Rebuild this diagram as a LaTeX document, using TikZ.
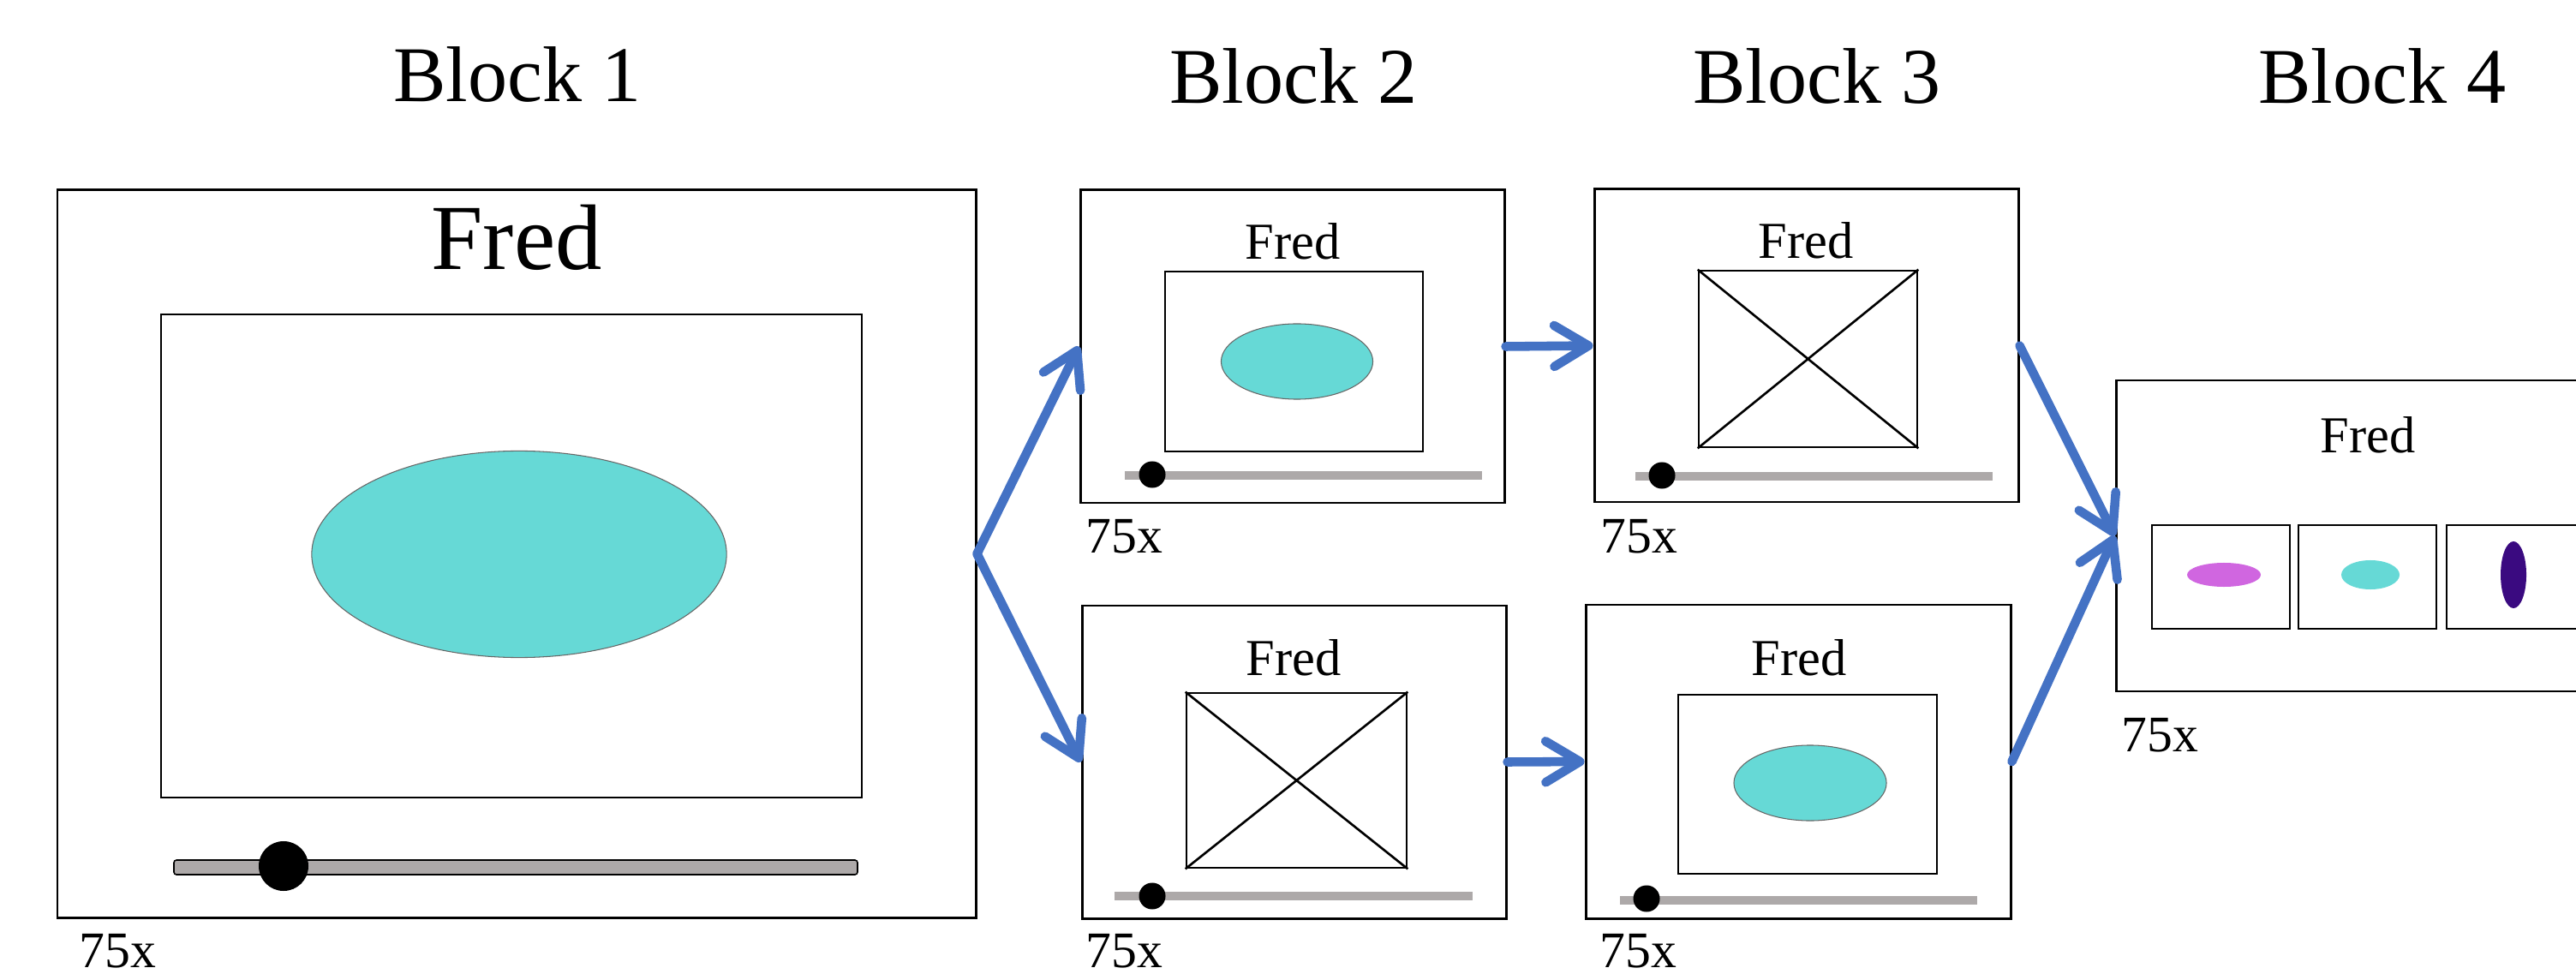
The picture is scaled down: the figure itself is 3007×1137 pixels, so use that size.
\documentclass[tikz,border=0pt]{standalone}
\usepackage{fontspec}
\setmainfont{Liberation Serif}
\usetikzlibrary{arrows.meta,fit,shapes.geometric}
\definecolor{cyanfill}{RGB}{102,217,214}
\definecolor{slidergray}{RGB}{173,169,169}
\definecolor{arrowblue}{RGB}{68,114,196}
\definecolor{magentafill}{RGB}{208,102,224}
\definecolor{purplefill}{RGB}{58,10,128}
\begin{document}
\begin{tikzpicture}[x=0.01cm,y=-0.01cm,
  outerbox/.style={draw, line width=0.85pt, inner sep=0pt},
  innerbox/.style={draw, line width=0.75pt, inner sep=0pt},
  blob/.style={ellipse, inner sep=0pt, draw=black!60, line width=0.3pt},
  flow/.style={draw=arrowblue, line width=3pt, line cap=round, -{Straight Barb[length=0.4cm, width=0.48cm, line cap=round, line join=round]}},
  track/.style={draw=slidergray, line width=2.85pt},
  knob/.style={circle, fill=black, inner sep=0pt, minimum size=0.31cm},
  blocktitle/.style={font=\fontsize{26.2}{30}\selectfont, anchor=base},
  bigfred/.style={font=\fontsize{30.9}{36}\selectfont, anchor=base},
  smallfred/.style={font=\fontsize{17.2}{20}\selectfont, anchor=base},
  countlbl/.style={font=\fontsize{17}{20}\selectfont, anchor=base west, inner sep=0pt},
]
\clip (0,0) rectangle (3007,1137);

% titles
\node[blocktitle] (t1) at (604,119) {Block 1};
\node[blocktitle] (t2) at (1510,121) {Block 2};
\node[blocktitle] (t3) at (2121,121) {Block 3};
\node[blocktitle] (t4) at (2781,121) {Block 4};

% ---------- Block 1 ----------
\node[outerbox, fit={(67,222) (1139,1071)}] (b1) {};
\node[bigfred] (f1) at (603,315) {Fred};
\node[innerbox, fit={(188,367) (1006,931)}] (i1) {};
\node[blob, fill=cyanfill, minimum width=4.84cm, minimum height=2.41cm] (e1) at (606,647) {};
\draw[fill=slidergray, draw=black, line width=0.45pt, rounded corners=0.03cm] (203,1004) rectangle (1001,1021);
\node[knob, minimum size=0.58cm] (k1) at (331,1011) {};
\node[countlbl] (c1) at (92,1129) {75x};

% ---------- Block 2 top ----------
\node[outerbox, fit={(1261,222) (1756,587)}] (b2t) {};
\node[smallfred] (f2t) at (1509,303) {Fred};
\node[innerbox, fit={(1360,317) (1661,527)}] (i2t) {};
\node[blob, fill=cyanfill, minimum width=1.77cm, minimum height=0.88cm] (e2t) at (1514,422) {};
\coordinate (s2ta) at (1313,555);
\coordinate (s2tb) at (1730,555);
\draw[track] (s2ta) -- (s2tb);
\node[knob] (k2t) at (1345,554) {};
\node[countlbl] (c2t) at (1267,645) {75x};

% ---------- Block 3 top ----------
\node[outerbox, fit={(1861,221) (2356,586)}] (b3t) {};
\node[smallfred] (f3t) at (2108,302) {Fred};
\node[innerbox, fit={(1983,316) (2238,522)}] (i3t) {};
\draw[line width=0.75pt] (i3t.north west) -- (i3t.south east) (i3t.north east) -- (i3t.south west);
\coordinate (s3ta) at (1909,556);
\coordinate (s3tb) at (2326,556);
\draw[track] (s3ta) -- (s3tb);
\node[knob] (k3t) at (1940,555) {};
\node[countlbl] (c3t) at (1868,646) {75x};

% ---------- Block 2 bottom ----------
\node[outerbox, fit={(1263,707) (1758,1072)}] (b2b) {};
\node[smallfred] (f2b) at (1510,788) {Fred};
\node[innerbox, fit={(1385,809) (1642,1013)}] (i2b) {};
\draw[line width=0.75pt] (i2b.north west) -- (i2b.south east) (i2b.north east) -- (i2b.south west);
\coordinate (s2ba) at (1301,1046);
\coordinate (s2bb) at (1719,1046);
\draw[track] (s2ba) -- (s2bb);
\node[knob] (k2b) at (1345,1046) {};
\node[countlbl] (c2b) at (1267,1129) {75x};

% ---------- Block 3 bottom ----------
\node[outerbox, fit={(1851,706) (2347,1072)}] (b3b) {};
\node[smallfred] (f3b) at (2100,788) {Fred};
\node[innerbox, fit={(1959,811) (2261,1020)}] (i3b) {};
\node[blob, fill=cyanfill, minimum width=1.78cm, minimum height=0.88cm] (e3b) at (2113,914) {};
\coordinate (s3ba) at (1891,1051);
\coordinate (s3bb) at (2308,1051);
\draw[track] (s3ba) -- (s3bb);
\node[knob] (k3b) at (1922,1049) {};
\node[countlbl] (c3b) at (1867,1129) {75x};

% ---------- Block 4 ----------
\node[outerbox, fit={(2470,444) (3060,807)}] (b4) {};
\node[smallfred] (f4) at (2764,529) {Fred};
\node[innerbox, fit={(2512,613) (2673,734)}] (q1) {};
\node[innerbox, fit={(2683,613) (2844,734)}] (q2) {};
\node[innerbox, fit={(2856,613) (3017,734)}] (q3) {};
\node[ellipse, inner sep=0pt, fill=magentafill, minimum width=0.86cm, minimum height=0.28cm] (m1) at (2596,671) {};
\node[ellipse, inner sep=0pt, fill=cyanfill, minimum width=0.68cm, minimum height=0.34cm] (m2) at (2767,671) {};
\node[ellipse, inner sep=0pt, fill=purplefill, minimum width=0.30cm, minimum height=0.78cm] (m3) at (2934,671) {};
\node[countlbl] (c4) at (2476,877) {75x};

% ---------- connectors ----------
\draw[flow] (b1.east) -- (b2t.west);
\draw[flow] (b1.east) -- (b2b.west);
\draw[flow] (b2t.east) -- (b3t.west);
\draw[flow] (b2b.east) -- (b3b.west);
\draw[flow] (b3t.east) -- (b4.west);
\draw[flow] (b3b.east) -- (b4.west);
\end{tikzpicture}
\end{document}
